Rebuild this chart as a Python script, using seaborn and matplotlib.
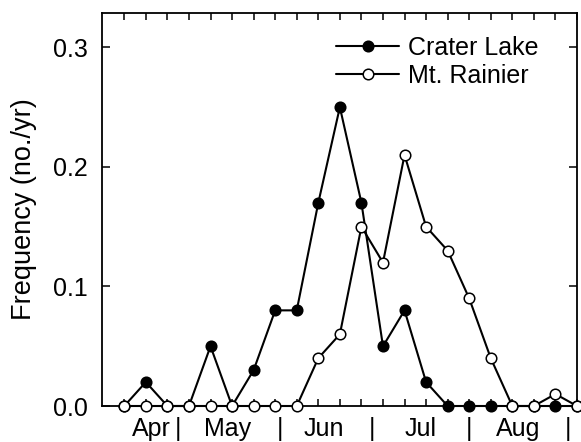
import matplotlib
matplotlib.use("Agg")
import matplotlib.pyplot as plt
import pandas as pd
import seaborn as sns

# Weekly sampling periods, April through August
weeks = list(range(22))
crater_lake = [0, 0.02, 0, 0, 0.05, 0, 0.03, 0.08, 0.08, 0.17, 0.25,
               0.17, 0.05, 0.08, 0.02, 0, 0, 0, 0, 0, 0, 0]
mt_rainier = [0, 0, 0, 0, 0, 0, 0, 0, 0, 0.04, 0.06,
              0.15, 0.12, 0.21, 0.15, 0.13, 0.09, 0.04, 0, 0, 0.01, 0]
series_names = ["Crater Lake", "Mt. Rainier"]

# Month names and the "|" dividers between months along the week axis
month_labels = ["Apr", "May", "Jun", "Jul", "Aug"]
month_centers = [1.28, 4.79, 9.27, 13.76, 18.29]
month_breaks = [2.48, 7.2, 11.5, 15.98, 20.6]
y_ticks = [0.0, 0.1, 0.2, 0.3]
y_tick_labels = ["0.0", "0.1", "0.2", "0.3"]

sns.set_style("ticks")
plt.rcParams["font.family"] = ["Liberation Sans", "DejaVu Sans"]
plt.rcParams["text.color"] = "black"
plt.rcParams["axes.labelcolor"] = "black"
plt.rcParams["xtick.color"] = "black"
plt.rcParams["ytick.color"] = "black"

df = pd.DataFrame({
    "week": weeks * 2,
    "freq": crater_lake + mt_rainier,
    "site": [series_names[0]] * len(weeks) + [series_names[1]] * len(weeks),
})

fig = plt.figure(figsize=(5.81, 4.42), dpi=100)
ax = fig.add_axes([101.5 / 581, 1 - 406 / 442, (577 - 101.5) / 581, (406 - 12.7) / 442])

face = {"Crater Lake": "black", "Mt. Rainier": "white"}
for name in series_names:
    sns.lineplot(data=df[df["site"] == name], x="week", y="freq", ax=ax,
                 color="black", linewidth=1.5, marker="o", markersize=7.6,
                 markerfacecolor=face[name], markeredgecolor="black",
                 markeredgewidth=1.1, label=name, clip_on=False, zorder=3)

ax.set_xlim(-1.057, 21.0)
ax.set_ylim(0, 0.329)

# Month labels with dividers (no tick marks), weekly ticks on top and bottom
pos = month_centers + month_breaks
labs = month_labels + ["|"] * len(month_breaks)
ax.set_xticks(pos, labs)
ax.tick_params(axis="x", which="major", length=0, pad=8, labelsize=18)
ax.set_xticks(weeks, minor=True)
ax.tick_params(axis="x", which="minor", direction="in", length=5,
               width=1.1, top=True, bottom=True)

ax.set_yticks(y_ticks, y_tick_labels)
ax.tick_params(axis="y", which="major", direction="in", length=6, width=1.1,
               left=True, right=True, labelsize=18, pad=10)

ax.set_xlabel("")
ax.set_ylabel("Frequency (no./yr)", fontsize=19.5, labelpad=11)

for sp in ax.spines.values():
    sp.set_visible(True)
    sp.set_linewidth(1.3)
    sp.set_color("black")

leg = ax.legend(loc="upper right", bbox_to_anchor=(0.955, 0.985), frameon=False,
                fontsize=18, handlelength=2.5, handletextpad=0.35,
                labelspacing=0.15, borderpad=0.2)

fig.savefig("out.png", dpi=100)
